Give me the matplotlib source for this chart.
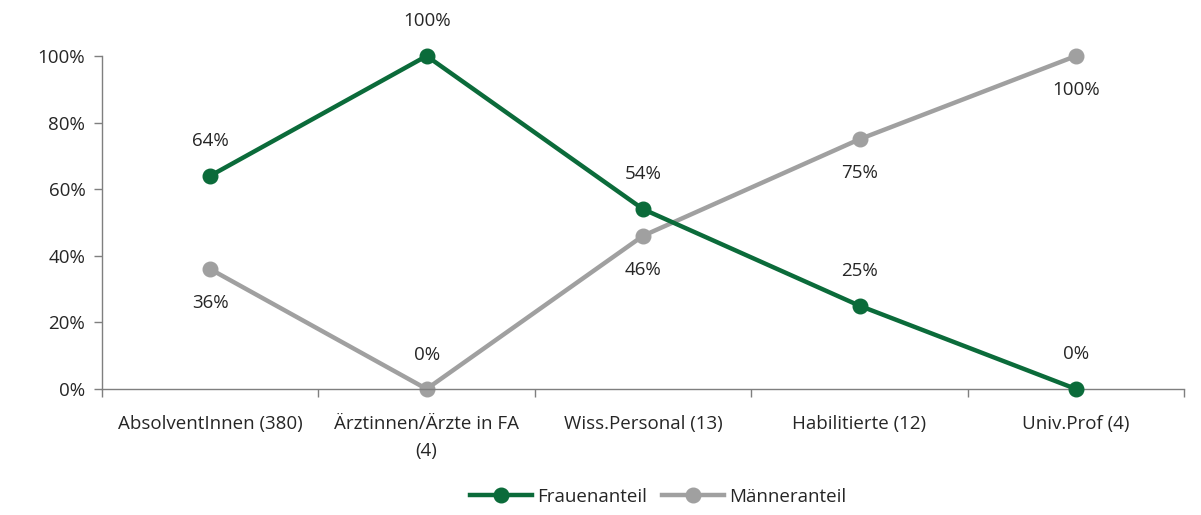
import matplotlib
matplotlib.use('Agg')
import matplotlib.pyplot as plt
from matplotlib.ticker import PercentFormatter, FixedLocator

kategorien = ["AbsolventInnen (380)", "Ärztinnen/Ärzte in FA\n(4)", "Wiss.Personal (13)",
              "Habilitierte (12)", "Univ.Prof (4)"]
frauen = [64, 100, 54, 25, 0]
maenner = [36, 0, 46, 75, 100]
# Position der Beschriftung: +1 oberhalb, -1 unterhalb
frauen_pos = [1, 1, 1, 1, 1]
maenner_pos = [-1, 1, -1, -1, -1]

gruen = "#0b6b3a"
grau = "#a0a0a0"
textfarbe = "#262626"
fs = 13.5

plt.rcParams['font.family'] = ['Open Sans', 'DejaVu Sans']

fig = plt.figure(figsize=(12.01, 5.15), dpi=100)
ax = fig.add_axes([0.0849, 0.2447, 0.9011, 0.6466])

x = list(range(len(kategorien)))
ax.plot(x, maenner, color=grau, lw=3.2, marker='o', ms=10.5, label='Männeranteil',
        zorder=2, clip_on=False)
ax.plot(x, frauen, color=gruen, lw=3.2, marker='o', ms=10.5, label='Frauenanteil',
        zorder=3, clip_on=False)

for xi, v, p in zip(x, frauen, frauen_pos):
    ax.annotate(f"{v}%", (xi, v), xytext=(0, 35 * p), textcoords='offset pixels',
                ha='center', va='center', fontsize=fs, color=textfarbe)
for xi, v, p in zip(x, maenner, maenner_pos):
    ax.annotate(f"{v}%", (xi, v), xytext=(0, 34 * p), textcoords='offset pixels',
                ha='center', va='center', fontsize=fs, color=textfarbe)

ax.set_xlim(-0.5, len(kategorien) - 0.5)
ax.set_ylim(0, 100)
ax.yaxis.set_major_locator(FixedLocator([0, 20, 40, 60, 80, 100]))
ax.yaxis.set_major_formatter(PercentFormatter(decimals=0))
ax.set_xticks(x)
ax.set_xticklabels(kategorien, fontsize=fs, color=textfarbe, linespacing=1.6)
ax.set_xticks([i - 0.5 for i in range(len(kategorien) + 1)], minor=True)
ax.tick_params(axis='x', which='major', length=0, pad=19)
ax.tick_params(axis='x', which='minor', length=6, width=1, color='#7f7f7f')
ax.tick_params(axis='y', length=6, width=1, color='#7f7f7f', labelsize=fs,
               labelcolor=textfarbe, pad=6)

for s in ['top', 'right']:
    ax.spines[s].set_visible(False)
for s in ['left', 'bottom']:
    ax.spines[s].set_color('#7f7f7f')
    ax.spines[s].set_linewidth(1)

handles, labels = ax.get_legend_handles_labels()
fig.legend(handles[::-1], labels[::-1], loc='center', bbox_to_anchor=(0.548, 0.035), ncol=2,
           frameon=False, fontsize=fs, handlelength=3.3, columnspacing=0.8,
           handletextpad=0.3, labelcolor=textfarbe)

fig.savefig("out.png", dpi=100)
